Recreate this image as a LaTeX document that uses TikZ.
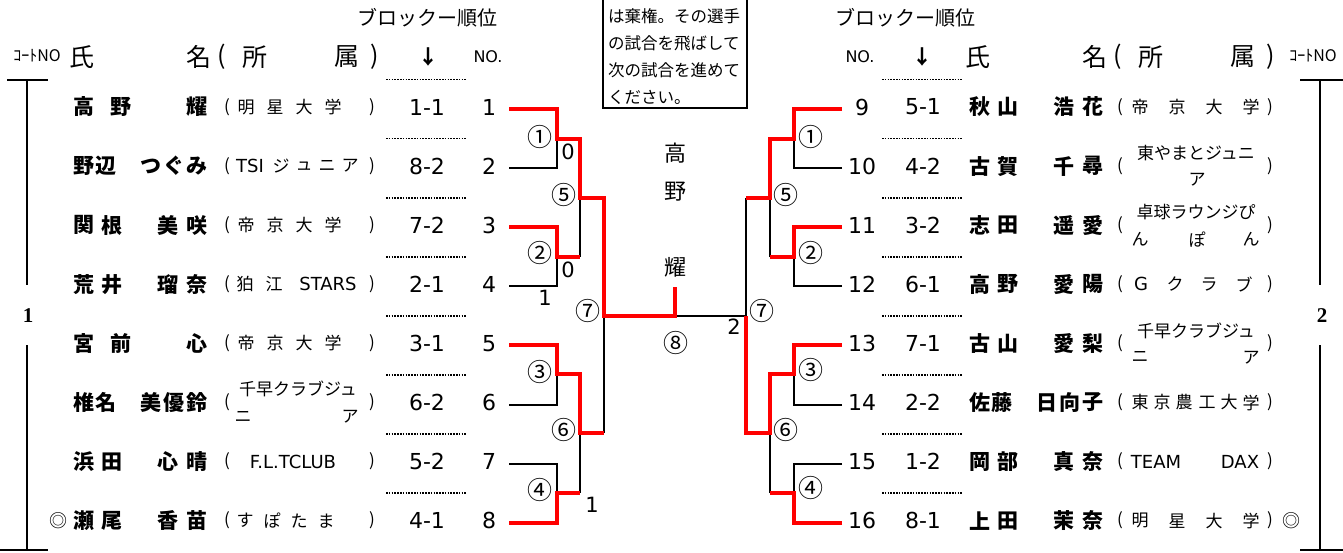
\documentclass[tikz,border=0pt]{standalone}
\usepackage{fontspec}
\newfontfamily\jp{Noto Sans CJK JP}
\newfontfamily\dv{DejaVu Sans}
\newfontfamily\sr{Liberation Serif}
\newcommand\fs[1]{\fontsize{#1}{#1}\selectfont}
\newcommand\lt{\dv\fs{18}}

\tikzset{
  win/.style={red, line width=4pt},
  lose/.style={black, line width=2pt},
  dots/.style={line width=1.6pt, dash pattern=on 1.6pt off 1.2pt},
  nm/.style={font=\jp\bfseries\fs{21}, inner sep=0pt},
  aff/.style={font=\jp\fs{17}, inner sep=0pt},
  num/.style={font=\dv\fs{22}, inner sep=0pt},
  sc/.style={font=\dv\fs{21}, inner sep=0pt},
  rnd/.style={font=\jp\fs{20}, inner sep=0pt},
  circ/.style={font=\jp\fs{25}, inner sep=0pt},
  hd/.style={font=\jp\fs{25}, inner sep=0pt},
  note/.style={font=\jp\fs{16.5}, inner sep=0pt, anchor=west},
  ct/.style={font=\sr\bfseries\fs{21}, inner sep=0pt},
}

% name spread over its cell: side, row, first x, items, chars
\newcommand\pname[5]{%
  \foreach \ch [count=\k] in {#5}
    \node[nm] (nm#1#2-\k) at ({#3+(\k-1)*113/(#4-1)},{107+59.1*(#2-1)}) {\ch};}
% club: tag, row, dy, x/text
\newcommand\paff[4]{%
  \foreach \ax/\at [count=\k] in {#4}
    \node[aff] (af#1#2-\k) at (\ax,{107+59.1*(#2-1)+#3}) {\at};}

\begin{document}
\begin{tikzpicture}[x=1pt,y=-1pt]
  \useasboundingbox (0,0) rectangle (1343,552);

  % headings
  \node[rnd] (bll) at (427,18) {ブロックー順位};
  \node[rnd] (blr) at (905,18) {ブロックー順位};
  \foreach \s/\c in {0/l,896/r} {
    \node[hd] (shi\c) at (82+\s,57) {氏};
    \node[hd] (mei\c) at (199+\s,57) {名};
    \node[hd] (pa\c) at (222+\s,57) {(};
    \node[hd] (sho\c) at (255+\s,57) {所};
    \node[hd] (zok\c) at (347+\s,57) {属};
    \node[hd] (pb\c) at (375+\s,57) {)};
  }
  \node[font=\jp\bfseries\fs{20}, inner sep=0pt] (arl) at (428,57) {↓};
  \node[font=\jp\bfseries\fs{20}, inner sep=0pt] (arr) at (922,57) {↓};
  \node[font=\dv\fs{16}, inner sep=0pt] (nol) at (488,57) {NO.};
  \node[font=\dv\fs{16}, inner sep=0pt] (nor) at (860,57) {NO.};
  \node[font=\jp\fs{16}, inner sep=0pt] (cnl) at (37,56) {ｺｰﾄNO};
  \node[font=\jp\fs{16}, inner sep=0pt] (cnr) at (1313,56) {ｺｰﾄNO};

  % note box
  \draw[lose] (603,0) -- (603,108) -- (747,108) -- (747,0);
  \node[note] (t1) at (608,16) {は棄権。その選手};
  \node[note] (t2) at (608,43) {の試合を飛ばして};
  \node[note] (t3) at (608,70) {次の試合を進めて};
  \node[note] (t4) at (608,97) {ください。};

  % rows
  \foreach \i/\rk/\rr in {1/1-1/5-1,2/8-2/4-2,3/7-2/3-2,4/2-1/6-1,5/3-1/7-1,6/6-2/2-2,7/5-2/1-2,8/4-1/8-1} {
    \pgfmathsetmacro\yy{109+59.1*(\i-1)}
    \pgfmathtruncatemacro\j{\i+8}
    \coordinate (L\i) at (509,\yy);
    \coordinate (R\i) at (842,\yy);
    \node[num] (no\i) at (489,\yy-2) {\i};
    \node[num] (no\j) at (862,\yy-2) {\j};
    \node[num] (bk\i) at (427,\yy-2) {\rk};
    \node[num] (bk\j) at (923,\yy-2) {\rr};
    \node[aff] (ol\i) at (227,\yy-2) {(};
    \node[aff] (cl\i) at (372,\yy-2) {)};
    \node[aff] (ol\j) at (1120,\yy-2) {(};
    \node[aff] (cl\j) at (1270,\yy-2) {)};
    \draw[dots] (386,\yy-29.5) -- (467,\yy-29.5);
    \draw[dots] (882,\yy-29.5) -- (963,\yy-29.5);
  }

  % names, left
  \pname{l}{1}{83.5}{4}{高,野,{},耀}
  \pname{l}{2}{83.5}{6}{野,辺,{},つ,ぐ,み}
  \pname{l}{3}{83.5}{5}{関,根,{},美,咲}
  \pname{l}{4}{83.5}{5}{荒,井,{},瑠,奈}
  \pname{l}{5}{83.5}{4}{宮,前,{},心}
  \pname{l}{6}{83.5}{6}{椎,名,{},美,優,鈴}
  \pname{l}{7}{83.5}{5}{浜,田,{},心,晴}
  \pname{l}{8}{83.5}{5}{瀬,尾,{},香,苗}
  \node[aff, font=\jp\fs{18}] (mkl) at (58,520.7) {◎};
  % names, right
  \pname{r}{1}{979.5}{5}{秋,山,{},浩,花}
  \pname{r}{2}{979.5}{5}{古,賀,{},千,尋}
  \pname{r}{3}{979.5}{5}{志,田,{},遥,愛}
  \pname{r}{4}{979.5}{5}{高,野,{},愛,陽}
  \pname{r}{5}{979.5}{5}{古,山,{},愛,梨}
  \pname{r}{6}{979.5}{6}{佐,藤,{},日,向,子}
  \pname{r}{7}{979.5}{5}{岡,部,{},真,奈}
  \pname{r}{8}{979.5}{5}{上,田,{},茉,奈}
  \node[aff, font=\jp\fs{18}] (mkr) at (1291,520.7) {◎};

  % clubs, left
  \paff{l}{1}{0}{246/明,275/星,304/大,333/学}
  \paff{l}{2}{0}{250/\lt TSI,281/ジ,304/ュ,327/ニ,350/ア}
  \paff{l}{3}{0}{246/帝,275/京,304/大,333/学}
  \paff{l}{4}{0}{245/狛,274/江,328/\lt STARS}
  \paff{l}{5}{0}{246/帝,275/京,304/大,333/学}
  \paff{la}{6}{-14}{298/千早クラブジュ}
  \paff{lb}{6}{14}{243/ニ,350/ア}
  \paff{l}{7}{0}{293/\lt F.L.TCLUB}
  \paff{l}{8}{0}{245/す,272/ぽ,299/た,326/ま}
  % clubs, right
  \paff{r}{1}{0}{1140/帝,1177/京,1214/大,1251/学}
  \paff{ra}{2}{-13}{1196/東やまとジュニ}
  \paff{rb}{2}{14}{1197/ア}
  \paff{ra}{3}{-13}{1196/卓球ラウンジぴ}
  \paff{rb}{3}{14}{1140/ん,1197/ぽ,1251/ん}
  \paff{r}{4}{0}{1141/\lt G,1175/ク,1209/ラ,1244/ブ}
  \paff{ra}{5}{-13}{1196/千早クラブジュ}
  \paff{rb}{5}{14}{1140/ニ,1251/ア}
  \paff{r}{6}{0}{1140/東,1162/京,1184/農,1207/工,1229/大,1251/学}
  \paff{r}{7}{0}{1156/\lt TEAM,1240/\lt DAX}
  \paff{r}{8}{0}{1140/明,1177/星,1214/大,1251/学}

  % court brackets
  \draw[lose] (7,80) -- (48,80);
  \draw[lose] (27,80) -- (27,285);
  \draw[lose] (27,345) -- (27,550);
  \draw[lose] (0,550) -- (48,550);
  \node[ct] (crt1) at (28,316) {1};
  \draw[lose] (1300,80) -- (1343,80);
  \draw[lose] (1320,80) -- (1320,285);
  \draw[lose] (1320,345) -- (1320,550);
  \draw[lose] (1300,550) -- (1343,550);
  \node[ct] (crt2) at (1322,316) {2};

  % match joints
  \coordinate (lm1) at (557,139);
  \coordinate (lm2) at (557,257);
  \coordinate (lm3) at (557,374);
  \coordinate (lm4) at (557,493);
  \coordinate (lm5) at (580,198);
  \coordinate (lm6) at (580,433);
  \coordinate (lm7) at (604,316);
  \coordinate (rm1) at (794,139);
  \coordinate (rm2) at (794,257);
  \coordinate (rm3) at (794,374);
  \coordinate (rm4) at (794,493);
  \coordinate (rm5) at (770,198);
  \coordinate (rm6) at (770,433);
  \coordinate (rm7) at (746,316);
  \coordinate (fc) at (675,316);
  \coordinate (ft) at (675,287);

  % losing lines
  \draw[lose] (L2) -| (lm1);
  \draw[lose] (L4) -| (lm2);
  \draw[lose] (lm2 -| lm5) -- (lm5);
  \draw[lose] (L6) -| (lm3);
  \draw[lose] (L7) -| (lm4);
  \draw[lose] (lm4 -| lm6) -- (lm6);
  \draw[lose] (lm6 -| lm7) -- (lm7);
  \draw[lose] (fc) -- (rm7);
  \draw[lose] (rm5 -| rm7) -- (rm7);
  \draw[lose] (R2) -| (rm1);
  \draw[lose] (R4) -| (rm2);
  \draw[lose] (rm2 -| rm5) -- (rm5);
  \draw[lose] (R6) -| (rm3);
  \draw[lose] (R7) -| (rm4);
  \draw[lose] (rm4 -| rm6) -- (rm6);

  % winning lines
  \draw[win] (L1) -| (lm1) -| (lm5) -| (lm7) -| (ft);
  \draw[win] (L3) -| (lm2) -- (lm2 -| lm5);
  \draw[win] (L5) -| (lm3) -| (lm6) -- (lm6 -| lm7);
  \draw[win] (L8) -| (lm4) -- (lm4 -| lm6);
  \draw[win] (R1) -| (rm1) -| (rm5) -- (rm5 -| rm7);
  \draw[win] (R3) -| (rm2) -- (rm2 -| rm5);
  \draw[win] (R5) -| (rm3) -| (rm6) -| (rm7);
  \draw[win] (R8) -| (rm4) -- (rm4 -| rm6);

  % round numbers and scores
  \foreach \n/\x/\y in {①/540/137,②/540/253,③/540/372,④/540/490,⑤/564/195,⑥/564/430,⑦/588/311,
                        ①/811/137,②/811/253,③/811/370,④/811/488,⑤/786/195,⑥/786/430,⑦/762/311,⑧/676/343}
    \node[circ] (rd\x-\y) at (\x,\y) {\n};
  \node[sc] (s1) at (568,152) {0};
  \node[sc] (s2) at (568,270) {0};
  \node[sc] (s3) at (545,298) {1};
  \node[sc] (s4) at (592,505) {1};
  \node[sc] (s5) at (734,327) {2};

  % winner
  \node[font=\jp\fs{22}, inner sep=0pt] (w1) at (675,153) {高};
  \node[font=\jp\fs{22}, inner sep=0pt] (w2) at (675,192) {野};
  \node[font=\jp\fs{22}, inner sep=0pt] (w3) at (675,267) {耀};
\end{tikzpicture}
\end{document}
